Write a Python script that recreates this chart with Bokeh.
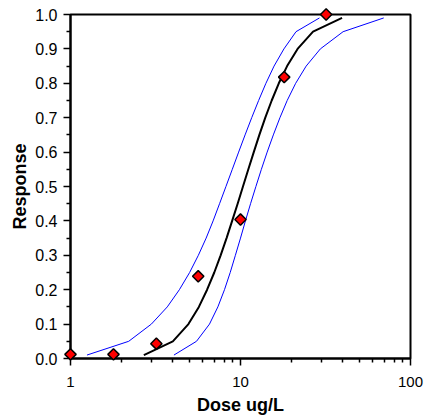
from bokeh.plotting import figure
from bokeh.models import Range1d, FixedTicker, PrintfTickFormatter, BasicTickFormatter
from bokeh.embed import file_html
from bokeh.resources import INLINE

# Observed data
dose_obs = [1.0, 1.79, 3.2, 5.64, 10.0, 18.07, 31.9]
resp_obs = [0.012, 0.012, 0.043, 0.239, 0.404, 0.818, 1.0]

# Fitted curve and confidence limits (dose at each response level)
resp_levels = [0.01, 0.05, 0.10, 0.15, 0.20, 0.25, 0.30, 0.35, 0.40, 0.45, 0.50,
               0.55, 0.60, 0.65, 0.70, 0.75, 0.80, 0.85, 0.90, 0.95, 0.99]
dose_fit = [2.70, 4.00, 4.94, 5.69, 6.36, 7.01, 7.64, 8.28, 8.93, 9.62, 10.34,
            11.12, 11.97, 12.91, 13.99, 15.26, 16.80, 18.80, 21.66, 26.71, 39.58]
dose_lower = [1.25, 2.20, 2.99, 3.71, 4.37, 5.02, 5.65, 6.28, 6.90, 7.53, 8.21,
              8.95, 9.75, 10.64, 11.64, 12.78, 14.11, 15.75, 18.01, 21.21, 29.14]
dose_upper = [4.06, 5.51, 6.57, 7.36, 8.05, 8.70, 9.33, 10.00, 10.69, 11.46, 12.32,
              13.27, 14.35, 15.60, 17.06, 18.82, 21.11, 24.33, 29.49, 40.14, 69.58]

x_ticks = [1, 10, 100]
x_minor = [2, 3, 4, 5, 6, 7, 8, 9, 20, 30, 40, 50, 60, 70, 80, 90]
y_ticks = [0.0, 0.1, 0.2, 0.3, 0.4, 0.5, 0.6, 0.7, 0.8, 0.9, 1.0]
y_minor = [0.05, 0.15, 0.25, 0.35, 0.45, 0.55, 0.65, 0.75, 0.85, 0.95]

FONT = "Liberation Sans"

p = figure(width=426, height=419, x_axis_type="log",
           x_range=Range1d(1, 100), y_range=Range1d(0, 1),
           output_backend="svg", toolbar_location=None,
           min_border_left=70, min_border_right=16, min_border_top=14, min_border_bottom=61)

p.xgrid.visible = False
p.ygrid.visible = False
p.outline_line_color = "black"
p.outline_line_width = 2
p.background_fill_color = "white"
p.border_fill_color = "white"

p.line(dose_lower, resp_levels, line_color="#0000FF", line_width=1)
p.line(dose_upper, resp_levels, line_color="#0000FF", line_width=1)
p.line(dose_fit, resp_levels, line_color="black", line_width=2)
r = p.scatter(dose_obs, resp_obs, marker="square", angle=0.785398, size=8,
              fill_color="#FF0000", line_color="black", line_width=1.5)
r.level = "overlay"

for ax in (p.xaxis[0], p.yaxis[0]):
    ax.axis_line_width = 2
    ax.axis_line_color = "black"
    ax.major_tick_line_color = "black"
    ax.minor_tick_line_color = "black"
    ax.major_tick_line_width = 1.5
    ax.minor_tick_line_width = 1.5
    ax.major_tick_in = 0
    ax.major_tick_out = 7
    ax.minor_tick_in = 0
    ax.minor_tick_out = 4
    ax.major_label_text_font = FONT
    ax.major_label_text_color = "black"
    ax.axis_label_text_font = FONT
    ax.axis_label_text_font_size = "18px"
    ax.axis_label_text_font_style = "bold"
    ax.axis_label_text_color = "black"

p.xaxis.ticker = FixedTicker(ticks=x_ticks, minor_ticks=x_minor)
p.xaxis.formatter = BasicTickFormatter()
p.xaxis.axis_label = "Dose ug/L"
p.xaxis.major_label_text_font_size = "15px"
p.xaxis.major_label_standoff = 11
p.xaxis.axis_label_standoff = 5

p.yaxis.ticker = FixedTicker(ticks=y_ticks, minor_ticks=y_minor)
p.yaxis.formatter = PrintfTickFormatter(format="%.1f")
p.yaxis.axis_label = "Response"
p.yaxis.major_label_text_font_size = "16px"
p.yaxis.major_label_standoff = 6
p.yaxis.axis_label_standoff = 2

open("out.html", "w").write(file_html(p, INLINE))
